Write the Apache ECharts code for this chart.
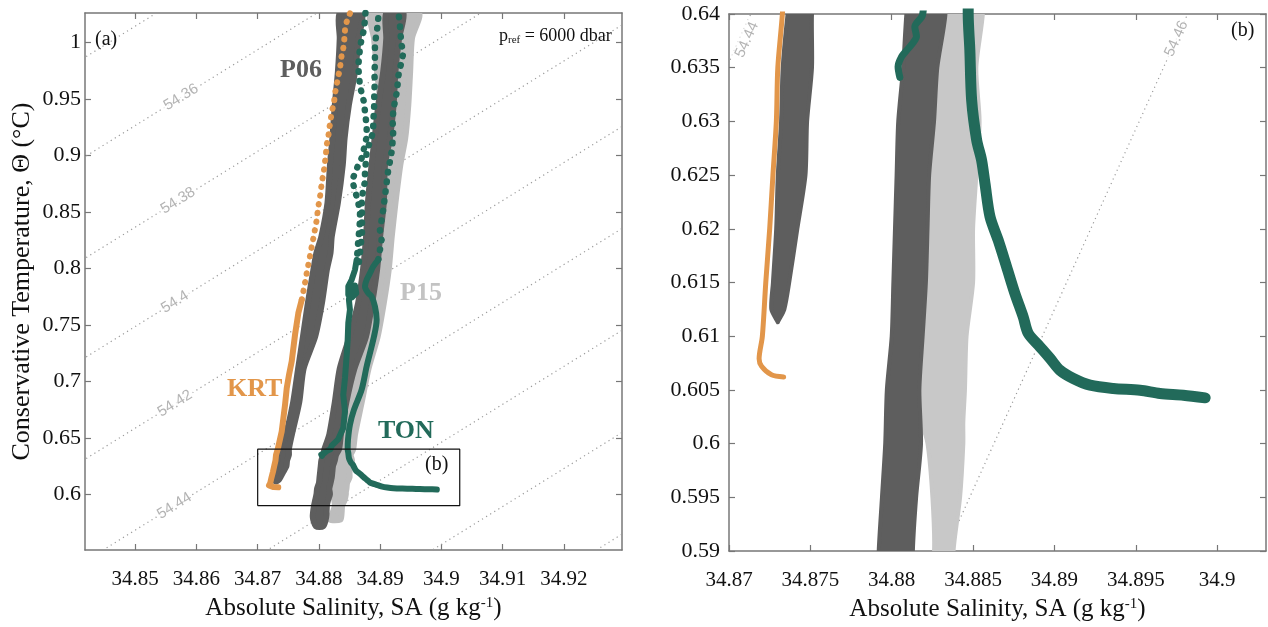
<!DOCTYPE html>
<html>
<head>
<meta charset="utf-8">
<script src="https://cdn.jsdelivr.net/npm/echarts@6/dist/echarts.min.js"></script>
<style>
  html, body { margin: 0; padding: 0; background: #fff; }
  #grafica { width: 1268px; height: 627px; }
</style>
</head>
<body>
<div id="grafica"></div>
<script>
// ticks
var xTicksA = [34.85, 34.86, 34.87, 34.88, 34.89, 34.9, 34.91, 34.92];
var yTicksA = [0.6, 0.65, 0.7, 0.75, 0.8, 0.85, 0.9, 0.95, 1];
var xTicksB = [34.87, 34.875, 34.88, 34.885, 34.89, 34.895, 34.9];
var yTicksB = [0.59, 0.595, 0.6, 0.605, 0.61, 0.615, 0.62, 0.625, 0.63, 0.635, 0.64];

// isopycnals (sigma_6000), T at SA = 34.840 and SA = 34.935
var isoS = [34.84, 34.935];
var isoT0 = [0.981, 0.893, 0.803, 0.715, 0.625, 0.5347, 0.4445, 0.354, 0.264];
var isoT1 = [1.3002, 1.2122, 1.1222, 1.0342, 0.9442, 0.8539, 0.7637, 0.6732, 0.5832];
var isoLabelA = ["54.36", "54.38", "54.4", "54.42", "54.44"];
var isoLabelPosA = [[34.8575, 0.9518], [34.857, 0.8601], [34.8565, 0.7704], [34.8565, 0.6804], [34.8564, 0.5898]];
var isoLabelB = ["54.44", "54.46"];
var isoLabelPosB = [[34.8711, 0.6376], [34.8975, 0.6377]];

// P06 clouds: [SA left, SA right, CT]
var p06West = [
  [34.8834, 34.887, 1.0263], [34.8834, 34.8865, 1.0039], [34.8831, 34.8859, 0.9743],
  [34.8826, 34.8849, 0.9449], [34.8822, 34.8842, 0.9154], [34.8818, 34.8839, 0.8918],
  [34.8814, 34.8831, 0.8582], [34.8804, 34.8821, 0.8283], [34.8796, 34.8819, 0.8139],
  [34.8791, 34.8813, 0.7988], [34.8782, 34.8805, 0.7694], [34.8774, 34.8794, 0.7398],
  [34.8766, 34.8775, 0.7113], [34.8758, 34.8768, 0.6818], [34.8746, 34.8756, 0.6531],
  [34.8736, 34.8751, 0.64], [34.8733, 34.8751, 0.635], [34.8732, 34.8748, 0.63],
  [34.873, 34.8747, 0.625], [34.8729, 34.8742, 0.62], [34.8727, 34.8737, 0.615],
  [34.8726, 34.8734, 0.6125], [34.873, 34.873, 0.6113]
];
var p06East = [
  [34.891, 34.8938, 1.0263], [34.891, 34.8931, 1.0039], [34.8905, 34.8925, 0.9743],
  [34.8897, 34.8922, 0.9449], [34.8891, 34.8916, 0.9154], [34.8886, 34.8908, 0.8918],
  [34.888, 34.8906, 0.8582], [34.8877, 34.89, 0.8283], [34.8872, 34.8895, 0.7988],
  [34.8864, 34.8887, 0.7694], [34.885, 34.8877, 0.7398], [34.8834, 34.8858, 0.7113],
  [34.8826, 34.8845, 0.6818], [34.8817, 34.8836, 0.6531], [34.8809, 34.8833, 0.64],
  [34.8807, 34.8828, 0.635], [34.8804, 34.8826, 0.63], [34.8803, 34.8823, 0.625],
  [34.8802, 34.8822, 0.62], [34.8801, 34.8821, 0.615], [34.88, 34.8819, 0.61],
  [34.8797, 34.8817, 0.605], [34.8796, 34.8818, 0.6], [34.8794, 34.8815, 0.595],
  [34.8792, 34.8813, 0.59], [34.879, 34.8812, 0.58], [34.8795, 34.8807, 0.5717]
];
// P15 cloud
var p15Band = [
  [34.8885, 34.8963, 1.0263], [34.889, 34.8952, 1.0039], [34.8895, 34.8949, 0.9743],
  [34.89, 34.8946, 0.9449], [34.8895, 34.8941, 0.9154], [34.889, 34.8933, 0.8918],
  [34.8885, 34.8925, 0.8579], [34.8882, 34.8919, 0.8283], [34.8877, 34.8914, 0.7988],
  [34.887, 34.8906, 0.7694], [34.8855, 34.8896, 0.7398], [34.884, 34.8881, 0.7113],
  [34.8832, 34.887, 0.6818], [34.8822, 34.8859, 0.6531], [34.8815, 34.8856, 0.64],
  [34.8812, 34.8852, 0.635], [34.881, 34.8854, 0.63], [34.881, 34.8852, 0.625],
  [34.881, 34.885, 0.62], [34.881, 34.885, 0.615], [34.881, 34.8846, 0.61],
  [34.881, 34.8845, 0.605], [34.8818, 34.8844, 0.602], [34.8822, 34.8844, 0.6],
  [34.8825, 34.8842, 0.595], [34.8826, 34.8838, 0.59], [34.8822, 34.8837, 0.583],
  [34.8818, 34.8835, 0.5776]
];

// KRT profile [SA, CT]
var krtDots = [
  [34.88507, 1.026], [34.88454, 1.0186], [34.88426, 1.0112], [34.88414, 1.0024], [34.88398, 0.995],
  [34.88372, 0.9891], [34.88344, 0.9773], [34.88316, 0.9699], [34.8829, 0.9626], [34.88263, 0.9552],
  [34.88246, 0.9464], [34.88209, 0.9389], [34.88192, 0.9316], [34.8817, 0.9242], [34.88153, 0.9168],
  [34.88127, 0.9095], [34.88116, 0.9021], [34.881, 0.8947], [34.88083, 0.8873], [34.88046, 0.8756],
  [34.88018, 0.8637], [34.8799, 0.8549], [34.87964, 0.8431], [34.87925, 0.8313], [34.87883, 0.8195],
  [34.87843, 0.8077], [34.87801, 0.7959], [34.87762, 0.7841], [34.8772, 0.7723]
];
var krtLine = [
  [34.8772, 0.7723], [34.87664, 0.7605], [34.8761, 0.7413], [34.87556, 0.7177], [34.87512, 0.7059],
  [34.87475, 0.6942], [34.87447, 0.6794], [34.87393, 0.6558], [34.87328, 0.64], [34.873, 0.635],
  [34.87291, 0.63], [34.8727, 0.625], [34.8725, 0.62], [34.87226, 0.615], [34.87205, 0.61],
  [34.87185, 0.6079], [34.872, 0.6072], [34.87261, 0.6064], [34.87336, 0.6062]
];

// TON profiles [SA, CT]
var tonADots = [
  [34.8876, 1.0263], [34.88752, 1.0201], [34.88736, 1.0112], [34.88698, 1.0039], [34.88671, 0.995],
  [34.88654, 0.9862], [34.88643, 0.9788], [34.88654, 0.9714], [34.88671, 0.9611], [34.88708, 0.9537],
  [34.8874, 0.9464], [34.88752, 0.9389], [34.88768, 0.9316], [34.8878, 0.9242], [34.8878, 0.9168],
  [34.88752, 0.9095], [34.88724, 0.9035], [34.88698, 0.8977], [34.88643, 0.8918], [34.886, 0.8858],
  [34.88545, 0.8785], [34.88577, 0.8711], [34.88617, 0.8637], [34.88643, 0.8579], [34.88671, 0.8504],
  [34.88671, 0.8431], [34.8866, 0.8342], [34.88643, 0.8254], [34.88633, 0.8165], [34.88617, 0.8077]
];
var tonALine = [
  [34.88617, 0.8077], [34.88589, 0.7988], [34.88535, 0.79], [34.8848, 0.7841], [34.8848, 0.7767],
  [34.8854, 0.7744], [34.8861, 0.7782], [34.8859, 0.785], [34.8852, 0.7835], [34.8849, 0.7723],
  [34.88507, 0.7635], [34.8848, 0.7519], [34.8847, 0.7369], [34.88454, 0.7236], [34.88426, 0.703],
  [34.88398, 0.6882], [34.88426, 0.6735], [34.88398, 0.6588], [34.88312, 0.6484], [34.88209, 0.6431],
  [34.88189, 0.6399], [34.88142, 0.6388], [34.88152, 0.6379], [34.8813, 0.6373], [34.88091, 0.6366],
  [34.8806, 0.636], [34.88039, 0.6351], [34.8805, 0.6341]
];
var tonBDots = [
  [34.88969, 1.0216], [34.88953, 1.0127], [34.88932, 1.0053], [34.88915, 0.9965], [34.88915, 0.9891],
  [34.88915, 0.9803], [34.88904, 0.9729], [34.88915, 0.9655], [34.88904, 0.9566], [34.88904, 0.9478],
  [34.88899, 0.9389], [34.88887, 0.9301], [34.88887, 0.9212], [34.88834, 0.9124], [34.8878, 0.9035],
  [34.88752, 0.8844], [34.88752, 0.877], [34.88724, 0.8696], [34.88698, 0.8608], [34.88703, 0.8546],
  [34.88703, 0.8316], [34.88671, 0.8139], [34.88638, 0.7988]
];
var tonCDots = [
  [34.89307, 1.023], [34.89323, 1.0157], [34.89334, 1.0068], [34.89351, 0.998], [34.89377, 0.9906],
  [34.89351, 0.9832], [34.89323, 0.9773], [34.89295, 0.9699], [34.89285, 0.9626], [34.89269, 0.9552],
  [34.89241, 0.9478], [34.89214, 0.9389], [34.89204, 0.9301], [34.89214, 0.9212], [34.89204, 0.9124],
  [34.89188, 0.9035], [34.8916, 0.8947], [34.89132, 0.8873], [34.89106, 0.8756], [34.89078, 0.8637],
  [34.89051, 0.8519], [34.89024, 0.8431], [34.88997, 0.8342], [34.89024, 0.8254], [34.88997, 0.8165],
  [34.88969, 0.8077]
];
var tonCLine = [
  [34.88969, 0.8077], [34.88887, 0.8018], [34.88834, 0.7959], [34.8878, 0.79], [34.88752, 0.7841],
  [34.88806, 0.7782], [34.88861, 0.7752], [34.88915, 0.7664], [34.88943, 0.7546], [34.88899, 0.7396],
  [34.8878, 0.7133], [34.88698, 0.6927], [34.88573, 0.675], [34.88507, 0.6617], [34.88475, 0.6484],
  [34.8847, 0.64], [34.8848, 0.63665], [34.88491, 0.63199], [34.88522, 0.62826], [34.88552, 0.6264],
  [34.88573, 0.62423], [34.88604, 0.62112], [34.88654, 0.61895], [34.88706, 0.61646], [34.88757, 0.61398],
  [34.88808, 0.6118], [34.88839, 0.61026], [34.88911, 0.60901], [34.88973, 0.60793], [34.89034, 0.60683],
  [34.89116, 0.60606], [34.89219, 0.60544], [34.89362, 0.60513], [34.89526, 0.60497], [34.89649, 0.60466],
  [34.89792, 0.60451], [34.89926, 0.60426]
];

var colores = {
  p06: "#5e5e5e", p15: "#bdbdbd", p15b: "#c8c8c8", krt: "#e2964a",
  ton: "#226a5a", iso: "#9a9a9a", eje: "#777777", texto: "#111111"
};
var serif = '"Liberation Serif", "Times New Roman", serif';

function fmt(v) {
  return String(parseFloat(Number(v).toFixed(4)));
}

function ejeX(grid, pos, min, max, ticks, conTexto, margen) {
  return {
    type: "value", gridIndex: grid, position: pos, min: min, max: max,
    axisLine: { show: true, onZero: false, lineStyle: { color: colores.eje, width: 1.5 } },
    axisTick: { show: true, inside: true, length: 6, customValues: ticks, lineStyle: { color: colores.eje, width: 1.2 } },
    axisLabel: {
      show: conTexto, customValues: ticks, formatter: fmt, margin: margen || 16,
      fontFamily: serif, fontSize: 21, color: colores.texto
    },
    splitLine: { show: false }
  };
}

function ejeY(grid, pos, min, max, ticks, conTexto, margen) {
  return {
    type: "value", gridIndex: grid, position: pos, min: min, max: max,
    axisLine: { show: true, onZero: false, lineStyle: { color: colores.eje, width: 1.5 } },
    axisTick: { show: true, inside: true, length: 6, customValues: ticks, lineStyle: { color: colores.eje, width: 1.2 } },
    axisLabel: {
      show: conTexto, customValues: ticks, formatter: fmt, margin: margen || 4,
      fontFamily: serif, fontSize: 22, color: colores.texto
    },
    splitLine: { show: false }
  };
}

function nube(filas, color, ancho, xi, yi, z) {
  return {
    type: "custom", xAxisIndex: xi, yAxisIndex: yi, z: z, silent: true,
    data: filas, encode: { x: [0, 1], y: 2 },
    renderItem: function (params, api) {
      if (params.dataIndexInside !== 0) return null;
      var izq = [], der = [];
      for (var i = 0; i < params.dataInsideLength; i++) {
        izq.push(api.coord([api.value(0, i), api.value(2, i)]));
        der.push(api.coord([api.value(1, i), api.value(2, i)]));
      }
      var cs = params.coordSys;
      return {
        type: "polygon",
        shape: { points: izq.concat(der.reverse()), smooth: 0.25 },
        style: { fill: color, stroke: color, lineWidth: ancho, lineJoin: "round" },
        clipPath: { type: "rect", shape: { x: cs.x, y: cs.y, width: cs.width, height: cs.height } }
      };
    }
  };
}

function perfil(datos, color, ancho, xi, yi, z, hueco, suave) {
  return {
    type: "line", xAxisIndex: xi, yAxisIndex: yi, z: z, data: datos,
    symbol: "none", showSymbol: false, silent: true, smooth: suave || false, clip: true,
    lineStyle: {
      color: color, width: ancho, cap: "round", join: "round",
      type: hueco ? [0.5, hueco] : "solid"
    }
  };
}

function isopicnas(xi, yi) {
  return isoT0.map(function (t0, i) {
    return {
      type: "line", xAxisIndex: xi, yAxisIndex: yi, z: 1, silent: true, clip: true,
      symbol: "none", showSymbol: false,
      data: [[isoS[0], t0], [isoS[1], isoT1[i]]],
      lineStyle: { color: colores.iso, width: 1.2, type: [1.2, 3.6] }
    };
  });
}

function etiquetasIso(textos, posiciones, giro, xi, yi) {
  return {
    type: "scatter", xAxisIndex: xi, yAxisIndex: yi, z: 2, silent: true,
    symbol: "circle", symbolSize: 1, itemStyle: { color: "rgba(0,0,0,0)" },
    data: posiciones.map(function (p, i) { return { name: textos[i], value: p }; }),
    label: {
      show: true, position: "inside", formatter: "{b}", rotate: giro,
      fontFamily: '"Liberation Sans", Arial, sans-serif', fontSize: 15,
      color: "#a0a0a0", backgroundColor: "#ffffff", padding: [0, 2]
    }
  };
}

var cajaB = [[xTicksB[0], yTicksB[0]], [34.903, yTicksB[0]], [34.903, yTicksB[yTicksB.length - 1]],
  [xTicksB[0], yTicksB[yTicksB.length - 1]], [xTicksB[0], yTicksB[0]]];

var chart = echarts.init(document.getElementById("grafica"));

var series = []
  .concat(isopicnas(0, 0))
  .concat(isopicnas(2, 2))
  .concat([
    etiquetasIso(isoLabelA, isoLabelPosA, 31.8, 0, 0),
    etiquetasIso(isoLabelB, isoLabelPosB, 65.7, 2, 2),
    // panel (a)
    nube(p15Band, colores.p15, 6, 0, 0, 3),
    nube(p06West, colores.p06, 6, 0, 0, 4),
    nube(p06East, colores.p06, 6, 0, 0, 4),
    perfil(krtDots, colores.krt, 6, 0, 0, 6, 8.3),
    perfil(krtLine, colores.krt, 6, 0, 0, 6),
    perfil(tonADots, colores.ton, 6.5, 0, 0, 7, 9.3),
    perfil(tonBDots, colores.ton, 6.5, 0, 0, 7, 9.3),
    perfil(tonCDots, colores.ton, 6.5, 0, 0, 7, 9.3),
    perfil(tonALine, colores.ton, 6, 0, 0, 7),
    perfil(tonCLine, colores.ton, 6, 0, 0, 7, 0, 0.3),
    {
      type: "line", xAxisIndex: 0, yAxisIndex: 0, z: 9, silent: true, clip: false,
      symbol: "none", showSymbol: false, data: cajaB,
      lineStyle: { color: "#111", width: 1.2 }
    },
    // panel (b)
    nube(p15Band, colores.p15b, 4, 2, 2, 3),
    nube(p06West, colores.p06, 4, 2, 2, 4),
    nube(p06East, colores.p06, 4, 2, 2, 4),
    perfil(krtLine, colores.krt, 5, 2, 2, 6, 0, 0.3),
    perfil(tonALine, colores.ton, 7, 2, 2, 7, 0, 0.3),
    perfil(tonCLine, colores.ton, 11, 2, 2, 7, 0, 0.3)
  ]);

var nombreX = {
  name: "Absolute Salinity, SA (g kg{sup|-1})", nameLocation: "middle", nameGap: 46,
  nameTextStyle: {
    fontFamily: serif, fontSize: 25, color: colores.texto,
    rich: { sup: { fontFamily: serif, fontSize: 15, color: colores.texto, verticalAlign: "top" } }
  }
};

var option = {
  animation: false,
  backgroundColor: "#ffffff",
  grid: [
    { left: 85, top: 13, width: 537, height: 537 },
    { left: 729, top: 14, width: 537, height: 537 }
  ],
  xAxis: [
    Object.assign(ejeX(0, "bottom", 34.8418, 34.9295, xTicksA, true, 19), nombreX),
    ejeX(0, "top", 34.8418, 34.9295, xTicksA, false),
    Object.assign(ejeX(1, "bottom", 34.87, 34.903, xTicksB, true, 19), nombreX),
    ejeX(1, "top", 34.87, 34.903, xTicksB, false)
  ],
  yAxis: [
    Object.assign(ejeY(0, "left", 0.5507, 1.0263, yTicksA, true, 4), {
      name: "Conservative Temperature, \u0398 (\u00b0C)", nameLocation: "middle", nameGap: 50,
      nameTextStyle: { fontFamily: serif, fontSize: 26, color: colores.texto }
    }),
    ejeY(0, "right", 0.5507, 1.0263, yTicksA, false),
    ejeY(1, "left", 0.59, 0.64, yTicksB, true, 9),
    ejeY(1, "right", 0.59, 0.64, yTicksB, false)
  ],
  graphic: [
    { type: "text", left: 95, top: 30, z: 20, style: { text: "(a)", font: "20px " + serif, fill: "#111" } },
    {
      type: "text", left: 499, top: 27, z: 20,
      style: {
        text: "{a|p}{s|ref}{a| = 6000 dbar}",
        rich: {
          a: { fontFamily: serif, fontSize: 18, fill: "#111" },
          s: { fontFamily: serif, fontSize: 11, fill: "#111", verticalAlign: "bottom", padding: [8, 0, 0, 0] }
        }
      }
    },
    { type: "text", left: 280, top: 57, z: 20, style: { text: "P06", font: "bold 26px " + serif, fill: colores.p06 } },
    { type: "text", left: 400, top: 280, z: 20, style: { text: "P15", font: "bold 26px " + serif, fill: "#c3c3c3" } },
    { type: "text", left: 227, top: 376, z: 20, style: { text: "KRT", font: "bold 26px " + serif, fill: colores.krt } },
    { type: "text", left: 378, top: 418, z: 20, style: { text: "TON", font: "bold 26px " + serif, fill: colores.ton } },
    { type: "text", left: 425, top: 455, z: 20, style: { text: "(b)", font: "20px " + serif, fill: "#111" } },
    { type: "text", left: 1231, top: 21, z: 20, style: { text: "(b)", font: "20px " + serif, fill: "#111" } }
  ],
  series: series
};

chart.setOption(option);
</script>
</body>
</html>
